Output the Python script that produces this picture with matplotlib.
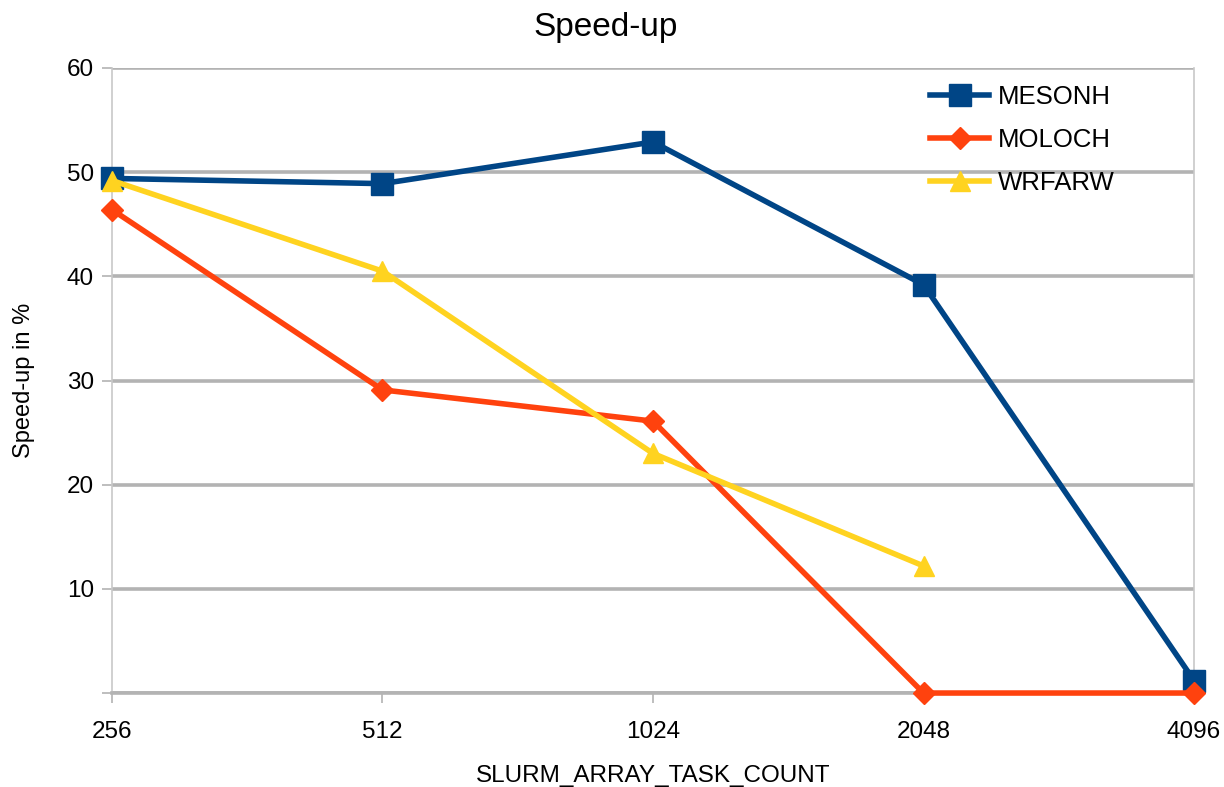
import matplotlib
matplotlib.use('Agg')
import matplotlib.pyplot as plt

# task counts on the x axis (categorical)
task_counts = ['256', '512', '1024', '2048', '4096']

# speed-up values in %
mesonh = [49.4, 48.9, 52.9, 39.2, 1.2]
moloch = [46.4, 29.1, 26.1, 0.0, 0.0]
wrfarw = [49.2, 40.5, 23.0, 12.2]

plt.rcParams['font.family'] = ['Liberation Sans', 'DejaVu Sans']

fig = plt.figure(figsize=(12.24, 7.87), dpi=100)
ax = fig.add_axes([0.0915, 0.1194, 0.884, 0.7942])

x = list(range(len(task_counts)))
ax.plot(x, mesonh, color='#004586', lw=4, marker='s', ms=16,
        label='MESONH', zorder=3, clip_on=False)
ax.plot(x, moloch, color='#ff420e', lw=4, marker='D', ms=11,
        label='MOLOCH', zorder=4, clip_on=False)
ax.plot(x[:len(wrfarw)], wrfarw, color='#ffd320', lw=4, marker='^', ms=15,
        label='WRFARW', zorder=5, clip_on=False)

ax.set_xlim(0, 4)
ax.set_ylim(0, 60)
ax.set_xticks(x)
ax.set_xticklabels(task_counts)
ax.set_yticks([0, 10, 20, 30, 40, 50, 60])
ax.set_yticklabels(['', '10', '20', '30', '40', '50', '60'])
ax.tick_params(axis='both', labelsize=17.5, color='#b3b3b3', length=7, width=1.2, pad=6)
ax.tick_params(axis='x', pad=13)

ax.grid(axis='y', color='#b3b3b3', lw=2.6, zorder=1)
ax.set_axisbelow(True)
for side in ['left', 'right']:
    ax.spines[side].set_color('#c8c8c8')
    ax.spines[side].set_linewidth(1.2)
ax.spines['top'].set_visible(False)
ax.spines['bottom'].set_color('#b3b3b3')
ax.spines['bottom'].set_linewidth(2.6)

# title is centred on the whole figure
fig.suptitle('Speed-up', fontsize=24, x=0.495, y=0.985)
ax.set_xlabel('SLURM_ARRAY_TASK_COUNT', fontsize=17.5, labelpad=16)
ax.set_ylabel('Speed-up in %', fontsize=17, labelpad=23)

leg = ax.legend(loc='upper left', bbox_to_anchor=(0.756, 0.973), frameon=False,
                fontsize=18.5, handlelength=2.3, labelspacing=0.74, handletextpad=0.35,
                borderpad=0, borderaxespad=0)

fig.savefig('out.png', dpi=100)
